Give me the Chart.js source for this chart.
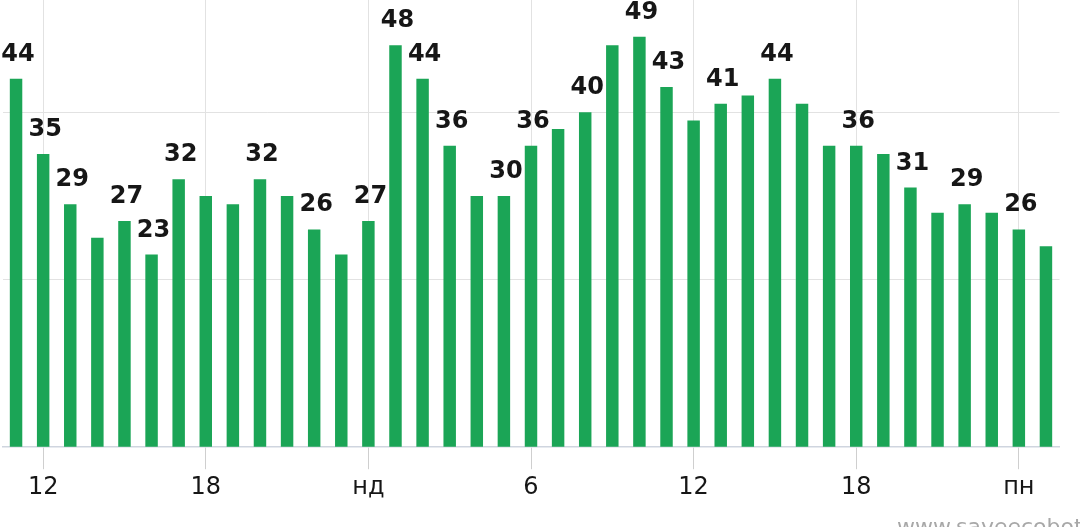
<!DOCTYPE html>
<html><head><meta charset="utf-8">
<script src="https://cdn.jsdelivr.net/npm/chart.js@4"></script>
<style>
html,body{margin:0;padding:0;background:#fff;overflow:hidden}
#wrap{position:relative;width:1080px;height:527px}
#wm{position:absolute;left:897px;top:514px;font:22px "DejaVu Sans",sans-serif;color:#a8a8a8;white-space:nowrap}
</style></head><body>
<div id="wrap"><canvas id="c" width="1080" height="527"></canvas><div id="wm">www.saveecobot.com</div></div>
<script>
const categories = ['11','12','13','14','15','16','17','18','19','20','21','22','23',
  'нд','1','2','3','4','5','6','7','8','9','10','11','12','13','14','15','16','17','18','19','20','21','22','23',
  'пн','1'];
const values = [44,35,29,25,27,23,32,30,29,32,30,26,23,
  27,48,44,36,30,30,36,38,40,48,49,43,39,41,42,44,41,36,36,35,31,28,29,28,
  26,24];
const labeledBars = [0,1,2,4,5,6,9,11,13,14,15,16,18,19,21,23,24,26,28,31,33,35,37];
const shownTicks = ['12','18','нд','6','пн'];
const yGridValues = [20,40];

const barColor = '#1ba556';
const gridColor = '#e2e2e2';

const valueLabels = {
  id: 'valueLabels',
  afterDatasetsDraw(chart) {
    const ctx = chart.ctx;
    const meta = chart.getDatasetMeta(0);
    ctx.save();
    ctx.font = 'bold 24px "DejaVu Sans"';
    ctx.fillStyle = '#161616';
    ctx.textAlign = 'center';
    ctx.textBaseline = 'alphabetic';
    labeledBars.forEach(i => {
      const el = meta.data[i];
      ctx.fillText(String(values[i]), el.x + 2, el.y - 18);
    });
    ctx.restore();
  }
};

function isShown(i) {
  return shownTicks.includes(categories[i]);
}

new Chart(document.getElementById('c'), {
  type: 'bar',
  data: {
    labels: categories,
    datasets: [{
      data: values,
      backgroundColor: barColor,
      borderWidth: 0,
      barPercentage: 0.92,
      categoryPercentage: 0.5
    }]
  },
  options: {
    responsive: false,
    animation: false,
    devicePixelRatio: 1,
    layout: { padding: { left: 2.5, right: 20.5, top: 0, bottom: 21 } },
    plugins: { legend: { display: false }, tooltip: { enabled: false } },
    scales: {
      x: {
        offset: true,
        grid: {
          offset: false,
          drawOnChartArea: true,
          tickLength: 22,
          color: c => isShown(c.index) ? gridColor : 'rgba(0,0,0,0)',
          tickColor: c => isShown(c.index) ? '#cfcfcf' : 'rgba(0,0,0,0)'
        },
        border: { color: '#cfd5df', width: 1.5 },
        ticks: {
          autoSkip: false,
          maxRotation: 0,
          padding: 4,
          color: '#161616',
          font: { family: 'DejaVu Sans', size: 24 },
          callback: (v, i) => isShown(i) ? categories[i] : ''
        }
      },
      y: {
        min: 0,
        max: 53.4,
        display: true,
        border: { display: false },
        ticks: { display: false, stepSize: 20 },
        grid: {
          drawTicks: false,
          color: c => yGridValues.includes(c.tick && c.tick.value) ? gridColor : 'rgba(0,0,0,0)'
        }
      }
    }
  },
  plugins: [valueLabels]
});
</script>
</body></html>
